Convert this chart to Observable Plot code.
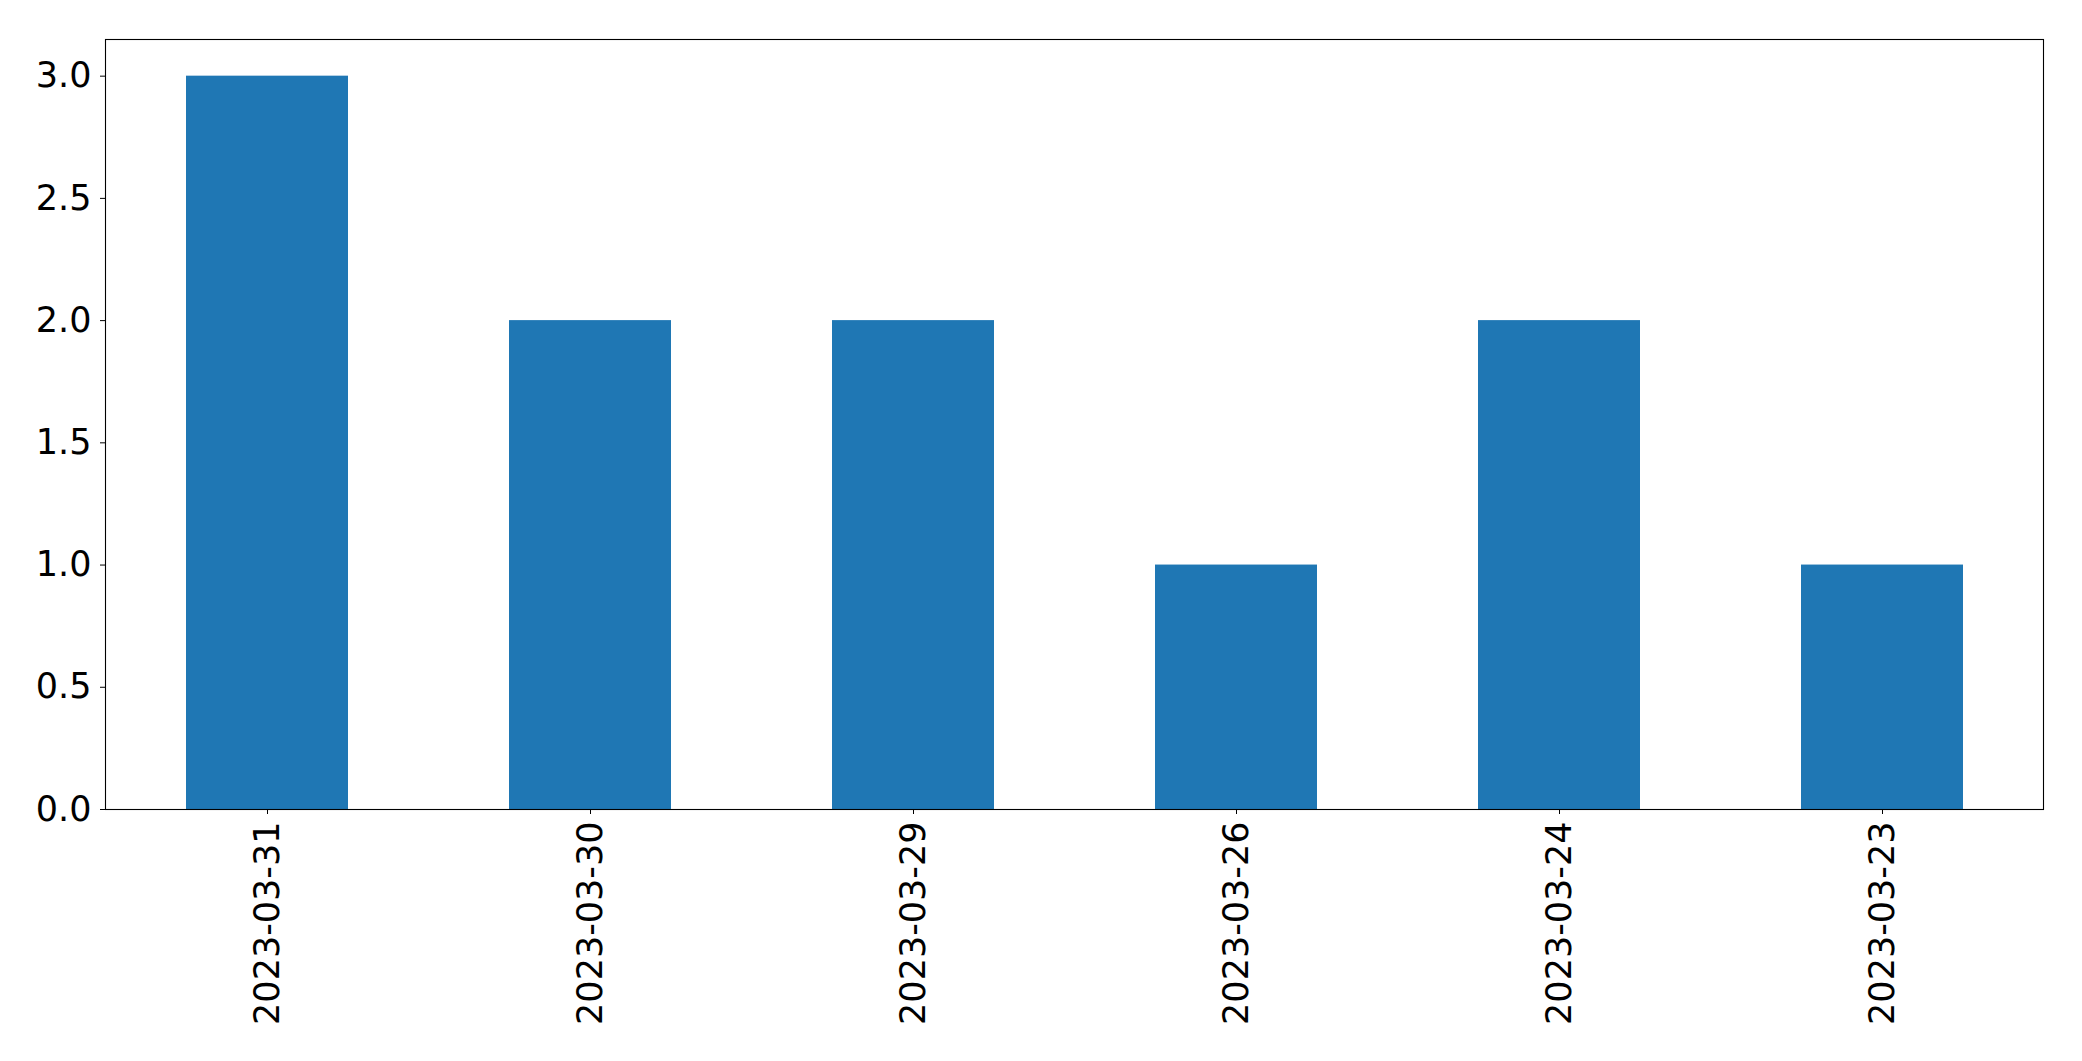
<!DOCTYPE html>
<html>
<head>
<meta charset="utf-8">
<script src="https://cdn.jsdelivr.net/npm/d3@7"></script>
<script src="https://cdn.jsdelivr.net/npm/@observablehq/plot@0.6"></script>
<style>
  html, body { margin: 0; padding: 0; background: #fff; }
  svg { display: block; }
</style>
</head>
<body>
<div id="chart"></div>
<script>
const dates = ["2023-03-31", "2023-03-30", "2023-03-29", "2023-03-26", "2023-03-24", "2023-03-23"];
const counts = [3, 2, 2, 1, 2, 1];
const yTicks = [0, 0.5, 1.0, 1.5, 2.0, 2.5, 3.0];

const data = dates.map((d, i) => ({date: d, count: counts[i]}));

const chart = Plot.plot({
  width: 2082,
  height: 1061,
  marginLeft: 105,
  marginRight: 39,
  marginTop: 39,
  marginBottom: 252,
  style: {fontFamily: "DejaVu Sans", fontSize: "35px", color: "#000", background: "#fff", overflow: "visible"},
  x: {domain: dates, paddingInner: 0.5, paddingOuter: 0.25, label: null},
  y: {domain: [0, 3.15], label: null},
  marks: [
    Plot.barY(data, {x: "date", y: "count", fill: "#1f77b4"}),
    Plot.axisY({ticks: yTicks, tickFormat: d3.format(".1f"), tickSize: 5, tickPadding: 9, fontSize: 35, label: null, stroke: "#000"}),
    Plot.axisX({tickSize: 5, tickPadding: 7, tickRotate: -90, fontSize: 35, label: null, stroke: "#000"}),
    Plot.frame({stroke: "#000", strokeWidth: 1.1})
  ]
});
document.getElementById("chart").appendChild(chart);
</script>
</body>
</html>
